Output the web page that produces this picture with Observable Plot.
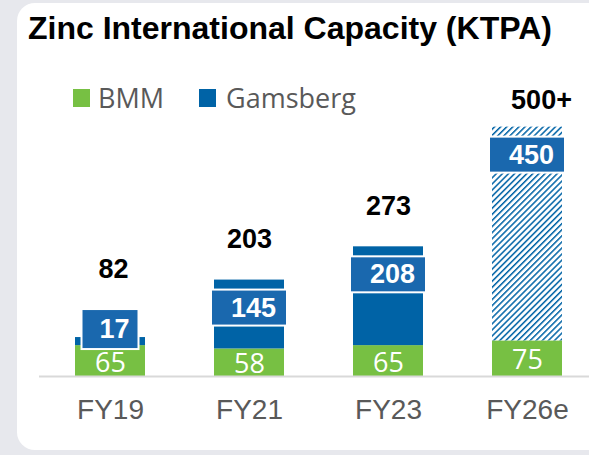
<!DOCTYPE html>
<html>
<head>
<meta charset="utf-8">
<script src="https://cdn.jsdelivr.net/npm/d3@7"></script>
<script src="https://cdn.jsdelivr.net/npm/@observablehq/plot@0.6"></script>
<style>
  html, body { margin: 0; padding: 0; }
  body { width: 589px; height: 455px; overflow: hidden; position: relative; background: #e7e8ed; }
  #card { position: absolute; left: 17px; top: 3px; width: 600px; height: 447px; background: #ffffff; border-radius: 18px; }
  #chart { position: absolute; left: 0; top: 0; }
  #title { position: absolute; left: 28px; top: 12px; font: bold 32px/32px "Liberation Sans", Arial, sans-serif; color: #000; white-space: nowrap; }
  .leg { position: absolute; top: 84px; font: 27px/27px "Open Sans", sans-serif; color: #595959; white-space: nowrap; }
  .sw { position: absolute; top: 89px; width: 17px; height: 18px; }
</style>
</head>
<body>
<div id="card"></div>
<div id="chart"></div>
<div id="title">Zinc International Capacity (KTPA)</div>
<div class="sw" style="left:73px;background:#77c043"></div>
<div class="leg" style="left:98px">BMM</div>
<div class="sw" style="left:199px;background:#0063a6"></div>
<div class="leg" style="left:226px">Gamsberg</div>
<script>
// ---- data ----
const years = ["FY19", "FY21", "FY23", "FY26e"];
const bmm = [65, 58, 65, 75];
const gamsberg = [17, 145, 208, 450];
const totalLabels = ["82", "203", "273", "500+"];

const green = "#77c043";
const blue = "#0063a6";
const boxBlue = "#1a68ae";

const rows = years.map((year, i) => ({
  year,
  bmm: bmm[i],
  gams: gamsberg[i],
  total: bmm[i] + gamsberg[i],
  totalLabel: totalLabels[i],
  estimate: year.endsWith("e"),
  small: gamsberg[i] < 50
}));
const actual = rows.filter(d => !d.estimate);
const est = rows.filter(d => d.estimate);
const big = rows.filter(d => !d.small);
const small = rows.filter(d => d.small);
const normal = rows.filter(d => !d.small && !d.estimate);

const sans = "'Liberation Sans', Arial, sans-serif";
const hasAxisMark = typeof Plot.axisX === "function";

const marks = [
  Plot.barY(rows, {x: "year", y1: 0, y2: "bmm", fill: green}),
  Plot.barY(actual, {x: "year", y1: "bmm", y2: "total", fill: blue}),
  Plot.barY(est, {x: "year", y1: "bmm", y2: "total", fill: "url(#hatch)"}),
  // label boxes
  Plot.barY(big, {x: "year", y1: "total", y2: "total", insetTop: 10, insetBottom: -46, insetLeft: -3, insetRight: -3, fill: boxBlue, stroke: "#ffffff", strokeWidth: 2}),
  Plot.barY(small, {x: "year", y1: "total", y2: "total", insetTop: -28, insetBottom: -12, insetLeft: 6.5, insetRight: 6.5, fill: boxBlue, stroke: "#ffffff", strokeWidth: 2}),
  Plot.text(big, {x: "year", y: "total", text: d => String(d.gams), dy: 28, dx: 4, lineAnchor: "middle", fill: "#ffffff", fontWeight: "bold", fontSize: 27, fontFamily: sans}),
  Plot.text(small, {x: "year", y: "total", text: d => String(d.gams), dy: -8, dx: 4, lineAnchor: "middle", fill: "#ffffff", fontWeight: "bold", fontSize: 27, fontFamily: sans}),
  // BMM labels
  Plot.text(rows, {x: "year", y: d => d.bmm / 2, text: d => String(d.bmm), dy: 2, lineAnchor: "middle", fill: "#ffffff", fontSize: 27, fontFamily: "'Open Sans', sans-serif"}),
  // totals
  Plot.text(normal, {x: "year", y: "total", text: "totalLabel", dy: -32, lineAnchor: "bottom", fill: "#000", fontWeight: "bold", fontSize: 27, fontFamily: sans}),
  Plot.text(small, {x: "year", y: "total", text: "totalLabel", dy: -60, dx: 3, lineAnchor: "bottom", fill: "#000", fontWeight: "bold", fontSize: 27, fontFamily: sans}),
  Plot.text(est, {x: "year", y: "total", text: "totalLabel", dy: -18, dx: 14, lineAnchor: "bottom", fill: "#000", fontWeight: "bold", fontSize: 27, fontFamily: sans}),
  Plot.ruleY([0], {stroke: "#d9d9d9", strokeWidth: 2, insetLeft: -8.5})
];
if (hasAxisMark) {
  marks.push(Plot.axisX({tickSize: 0, tickPadding: 23, fontSize: 28, color: "#595959", label: null, fontFamily: sans}));
}

const chart = Plot.plot({
  width: 589,
  height: 455,
  marginLeft: 47.5,
  marginRight: 0,
  marginTop: 91,
  marginBottom: 79,
  style: {background: "transparent", fontFamily: sans, fontSize: "28px", color: "#595959", overflow: "visible"},
  x: Object.assign({domain: years, paddingInner: 0.5, paddingOuter: 0.191, label: null, tickSize: 0, tickPadding: 23}, hasAxisMark ? {axis: null} : {}),
  y: {domain: [0, 600], axis: null},
  marks
});

// hatch pattern for the estimated Gamsberg capacity
const ns = "http://www.w3.org/2000/svg";
const defs = document.createElementNS(ns, "defs");
defs.innerHTML = '<pattern id="hatch" patternUnits="userSpaceOnUse" width="4.3" height="4.3" patternTransform="rotate(45)">' +
  '<rect width="4.3" height="4.3" fill="#ffffff"/><rect x="0" y="0" width="1.5" height="4.3" fill="' + blue + '"/></pattern>';
chart.insertBefore(defs, chart.firstChild);
if (!hasAxisMark) {
  const s = document.createElement("style");
  s.textContent = "#chart svg [aria-label^='x-axis'] text{font-size:28px;fill:#595959}";
  document.head.appendChild(s);
}
document.getElementById("chart").appendChild(chart);
</script>
</body>
</html>
